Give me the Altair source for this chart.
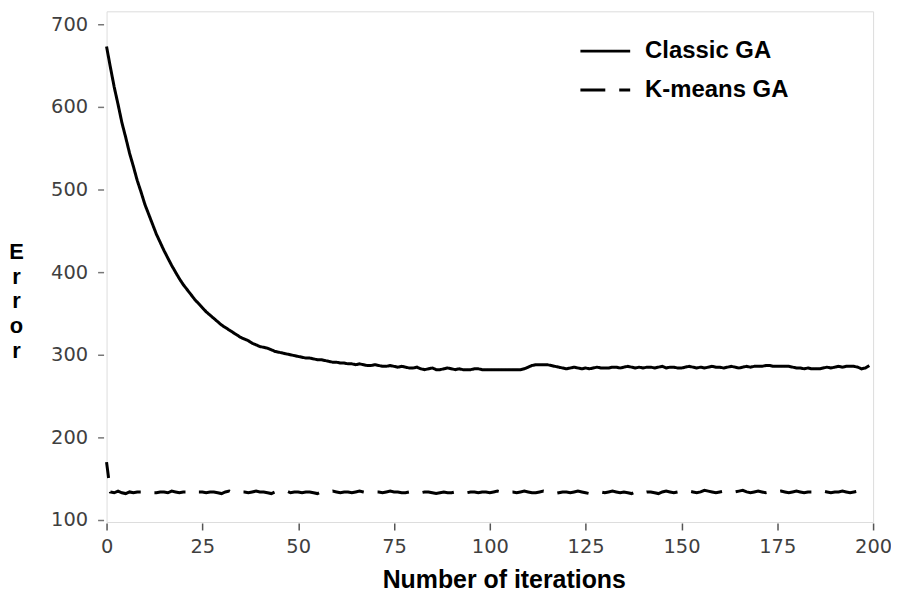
import altair as alt
import pandas as pd

series_names = ["Classic GA", "K-means GA"]

classic_ga = [
    673, 648, 624, 603, 581, 563, 544, 528, 511, 497,
    482, 470, 458, 446, 436, 426, 417, 408, 400, 392,
    385, 379, 373, 367, 362, 357, 352, 348, 344, 340,
    336, 333, 330, 327, 324, 321, 319, 317, 314, 312,
    310, 309, 308, 306, 304, 303, 302, 301, 300, 299,
    298, 297, 296, 296, 295, 294, 294, 293, 292, 291,
    291, 290, 290, 289, 289, 288, 289, 288, 287, 287,
    288, 287, 286, 286, 287, 286, 285, 286, 285, 284,
    284, 285, 283, 282, 283, 284, 282, 282, 283, 284,
    283, 282, 283, 282, 282, 282, 283, 283, 282, 282,
    282, 282, 282, 282, 282, 282, 282, 282, 282, 283,
    285, 287, 288, 288, 288, 288, 287, 286, 285, 284,
    283, 284, 285, 284, 283, 284, 283, 284, 285, 284,
    284, 284, 285, 285, 284, 285, 286, 285, 284, 285,
    284, 285, 285, 284, 285, 286, 284, 285, 285, 284,
    284, 285, 286, 285, 284, 285, 284, 285, 286, 285,
    285, 284, 285, 286, 285, 284, 285, 286, 285, 286,
    286, 286, 287, 287, 286, 286, 286, 286, 286, 285,
    284, 284, 283, 284, 283, 283, 283, 284, 285, 284,
    285, 286, 285, 286, 286, 286, 285, 283, 284, 287,
]

kmeans_ga = [
    170,
    134, 133, 135, 133, 132, 134, 133, 134, 134, 133, 134, 133, 133, 134, 134, 133, 135, 134, 133, 134,
    134, 133, 135, 134, 134, 133, 134, 134, 133, 132, 134, 135, 133, 134, 134, 134, 133, 134, 135, 134,
    134, 133, 132, 134, 133, 134, 135, 133, 134, 134, 133, 134, 134, 133, 132, 134, 133, 134, 135, 134,
    133, 134, 134, 133, 134, 135, 134, 133, 134, 134, 134, 133, 134, 135, 134, 134, 133, 133, 134, 135,
    134, 133, 134, 134, 133, 132, 133, 134, 133, 133, 134, 135, 134, 133, 134, 134, 133, 134, 134, 133,
    134, 135, 134, 133, 134, 134, 133, 134, 135, 134, 133, 133, 134, 135, 134, 133, 132, 133, 134, 134,
    133, 134, 135, 134, 133, 132, 133, 134, 134, 133, 134, 135, 134, 133, 134, 133, 132, 134, 135, 133,
    134, 134, 133, 132, 134, 135, 134, 133, 134, 133, 134, 135, 134, 133, 134, 136, 135, 134, 133, 134,
    135, 134, 133, 134, 135, 136, 134, 133, 134, 135, 134, 133, 134, 133, 134, 135, 134, 133, 134, 135,
    134, 133, 134, 134, 133, 134, 135, 134, 133, 134, 134, 135, 134, 133, 134, 135, 134, 133, 134,
]

x_ticks = [0, 25, 50, 75, 100, 125, 150, 175, 200]
y_ticks = [100, 200, 300, 400, 500, 600, 700]

rows = []
for i, v in enumerate(classic_ga):
    rows.append({"iteration": i, "error": v, "series": series_names[0]})
for i, v in enumerate(kmeans_ga):
    rows.append({"iteration": i, "error": v, "series": series_names[1]})
df = pd.DataFrame(rows)

title_font = "Liberation Sans"
tick_font = "DejaVu Sans"

chart = alt.Chart(df).mark_line(color="black", strokeWidth=3, strokeDashOffset=16).encode(
    x=alt.X(
        "iteration:Q",
        scale=alt.Scale(domain=[0, 200], nice=False, zero=False),
        axis=alt.Axis(
            values=x_ticks,
            title="Number of iterations",
            titleFont=title_font,
            titleFontSize=25,
            titleFontWeight="bold",
            titleColor="black",
            titleX=399,
            titleY=65,
            titleAlign="center",
            titleBaseline="alphabetic",
            labelFont=tick_font,
            labelFontSize=19.5,
            labelColor="#3f3f3f",
            labelFlush=False,
            labelPadding=8,
            tickSize=7,
            offset=1,
            tickColor="#555555",
            tickWidth=1.5,
            domain=False,
            grid=False,
        ),
    ),
    y=alt.Y(
        "error:Q",
        scale=alt.Scale(domain=[97.6, 715.7], nice=False, zero=False),
        axis=alt.Axis(
            values=y_ticks,
            title=["E", "r", "r", "o", "r"],
            titleFont=title_font,
            titleFontSize=22,
            titleFontWeight="bold",
            titleColor="black",
            titleAngle=0,
            titleX=-88,
            titleY=248,
            titleAlign="center",
            titleBaseline="alphabetic",
            titleLineHeight=25,
            labelFont=tick_font,
            labelFontSize=19.5,
            labelColor="#3f3f3f",
            labelFlush=False,
            labelPadding=10,
            tickSize=6,
            offset=3,
            tickColor="#777777",
            tickWidth=1.5,
            domain=False,
            grid=False,
        ),
    ),
    strokeDash=alt.StrokeDash(
        "series:N",
        scale=alt.Scale(domain=series_names, range=[[1, 0], [32, 14]]),
        legend=alt.Legend(
            title=None,
            orient="none",
            legendX=487,
            legendY=26,
            padding=0,
            symbolType="M-2,0H2",
            symbolSize=625,
            symbolStrokeWidth=3,
            symbolStrokeColor="black",
            symbolDashOffset=7,
            labelFont=title_font,
            labelFontSize=24,
            labelFontWeight="bold",
            labelColor="black",
            labelOffset=26,
            labelLimit=400,
            rowPadding=13,
        ),
    ),
    order="iteration:Q",
).properties(
    width=770,
    height=513,
    autosize=alt.AutoSizeParams(type="none"),
    padding={"left": 99, "top": 2, "right": 18, "bottom": 70},
).configure_view(
    stroke="#f6f6f6",
    strokeWidth=1,
).configure(
    background="white",
)

chart.save("out.html", embed_options={"renderer": "svg", "actions": False})
